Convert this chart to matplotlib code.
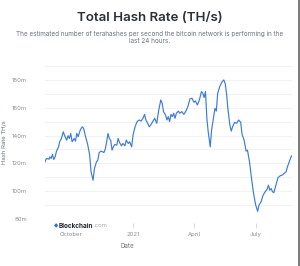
"""Total Hash Rate (TH/s) - Blockchain.com style line chart, 300x266 px."""
import pandas as pd
import matplotlib.pyplot as plt

# days relative to 2021-01-01
DAY_OFFSET = [
    -130, -128, -124, -123, -121, -119, -117, -115, -113, -110,
    -108, -106, -103, -101, -98, -96, -94, -92, -90, -87,
    -85, -83, -81, -78, -75, -73, -70, -67, -64, -62,
    -59, -57, -54, -52, -50, -47, -43, -41, -39, -37,
    -35, -33, -31, -29, -27, -24, -22, -20, -17, -15,
    -12, -10, -7, -5, -2, 0, 3, 6, 9, 12,
    15, 17, 19, 21, 24, 26, 29, 32, 35, 38,
    41, 43, 45, 48, 50, 52, 54, 56, 58, 60,
    62, 64, 67, 69, 72, 75, 78, 81, 84, 87,
    90, 92, 95, 98, 101, 103, 105, 107, 109, 111,
    114, 116, 119, 121, 123, 125, 128, 131, 134, 136,
    138, 140, 143, 145, 147, 150, 153, 156, 159, 161,
    164, 167, 169, 172, 175, 178, 181, 184, 186, 189,
    192, 195, 198, 200, 202, 204, 206, 208, 211, 214,
    217, 220, 223, 226, 228, 231, 234,
]
# hash rate, millions of TH/s
HASH_M = [
    121.1, 123.5, 123.0, 124.7, 123.5, 126.4, 122.8, 124.7, 128.8, 131.9,
    136.0, 137.5, 142.7, 139.9, 136.7, 139.9, 137.9, 141.5, 135.5, 137.9,
    136.0, 141.5, 139.1, 143.9, 146.3, 145.1, 139.1, 133.6, 125.9, 113.9,
    107.9, 116.3, 121.1, 122.3, 127.8, 128.8, 127.8, 130.2, 135.5, 141.5,
    137.9, 136.7, 129.5, 131.9, 133.6, 133.1, 137.9, 135.0, 132.6, 134.3,
    132.6, 136.7, 134.3, 135.5, 131.9, 140.3, 146.3, 150.0, 151.2, 150.4,
    152.8, 155.2, 151.2, 149.5, 146.3, 147.5, 150.0, 152.4, 148.8, 158.4,
    165.6, 163.2, 157.2, 154.8, 151.2, 153.6, 150.0, 155.2, 153.6, 156.0,
    152.4, 156.0, 157.6, 156.0, 157.2, 155.2, 157.6, 160.8, 166.3, 166.8,
    163.9, 164.9, 162.0, 165.6, 171.6, 170.4, 167.3, 171.6, 152.4, 142.7,
    131.9, 143.9, 153.6, 159.6, 157.6, 170.4, 175.2, 178.3, 180.0, 177.6,
    170.4, 159.6, 147.5, 143.2, 146.3, 149.5, 148.8, 151.2, 149.5, 140.8,
    136.7, 128.8, 129.5, 121.1, 109.1, 98.3, 90.3, 85.5, 89.9, 92.3,
    97.1, 99.5, 101.4, 104.3, 100.7, 101.9, 99.5, 99.0, 104.3, 109.6,
    111.0, 111.5, 112.7, 113.9, 117.5, 121.6, 125.4,
]
Y_LABELED = [80, 100, 120, 140, 160, 180]
Y_GRID = list(range(80, 191, 10))
X_TICKS = ["2020-10-01", "2021-01-01", "2021-04-01", "2021-07-01"]
X_LABELS = ["October", "2021", "April", "July"]

W, H = 300, 266
plt.rcParams["font.family"] = ["Inter", "DejaVu Sans"]
fig = plt.figure(figsize=(W / 100, H / 100), dpi=100)

fig.text(150 / W, 1 - 18 / H, "Total Hash Rate (TH/s)", ha="center",
         va="center", fontsize=9.6, fontweight="semibold", color="#2b2f36")
fig.text(150 / W, 1 - 37.5 / H,
         "The estimated number of terahashes per second the bitcoin network is performing in the\nlast 24 hours.",
         ha="center", va="center", fontsize=4.6, color="#6b7280",
         linespacing=1.3)

ax = fig.add_axes([45 / W, 1 - 219 / H, 246.5 / W, (219 - 66) / H])
x = pd.Timestamp("2021-01-01") + pd.to_timedelta(DAY_OFFSET, unit="D")
ax.plot(x, HASH_M, color="#3d7bd6", lw=0.85)

ax.set_ylim(80, 190)
ax.set_xlim(pd.Timestamp("2020-08-24"), pd.Timestamp("2021-08-23"))
ax.set_yticks(Y_GRID)
ax.set_yticklabels([f"{v}m" if v in Y_LABELED else "" for v in Y_GRID])
ax.grid(axis="y", color="#eef0f3", lw=0.6)
ax.set_axisbelow(True)
for s in ax.spines.values():
    s.set_visible(False)
ax.spines["bottom"].set_position(("outward", 3))
ax.tick_params(axis="y", length=0, pad=13, labelsize=4.3, labelcolor="#8a8f98")

ax.set_xticks(pd.to_datetime(X_TICKS))
ax.set_xticklabels(X_LABELS)
ax.tick_params(axis="x", length=3.5, width=0.5, color="#c8ccd2", pad=3,
               labelsize=4.3, labelcolor="#8a8f98")
# the watermark hides the October tick mark
ax.xaxis.get_major_ticks()[0].tick1line.set_visible(False)
ax.set_xlabel("Date", fontsize=4.5, color="#6b7280")
ax.xaxis.set_label_coords((127 - 45) / 246.5, -(243 - 219) / (219 - 66))
ax.set_ylabel("Hash Rate TH/s", fontsize=4.3, color="#6b7280")
ax.yaxis.set_label_coords(-(45 - 7) / 246.5, 0.5)

# Blockchain.com watermark
fig.text(54 / W, 1 - 225.5 / H, "\u25c6", fontsize=4, color="#2c6fd6",
         va="center", ha="left", family="DejaVu Sans")
wm = fig.text(59 / W, 1 - 225.5 / H, "Blockchain", fontsize=4.6,
              color="#1f2430", fontweight="bold", va="center", ha="left")
ax.annotate(".com", xy=(1, 0.5), xycoords=wm, xytext=(-0.2, 0),
            textcoords="offset points", fontsize=4.3, color="#a0a5ad",
            va="center", ha="left", annotation_clip=False)

# right edge border of the screenshot
fig.add_artist(plt.Line2D([299 / W, 299 / W], [0, 1], color="#7a7a7a",
                          lw=1.4, transform=fig.transFigure))

fig.savefig("out.png", dpi=100, facecolor="white")
